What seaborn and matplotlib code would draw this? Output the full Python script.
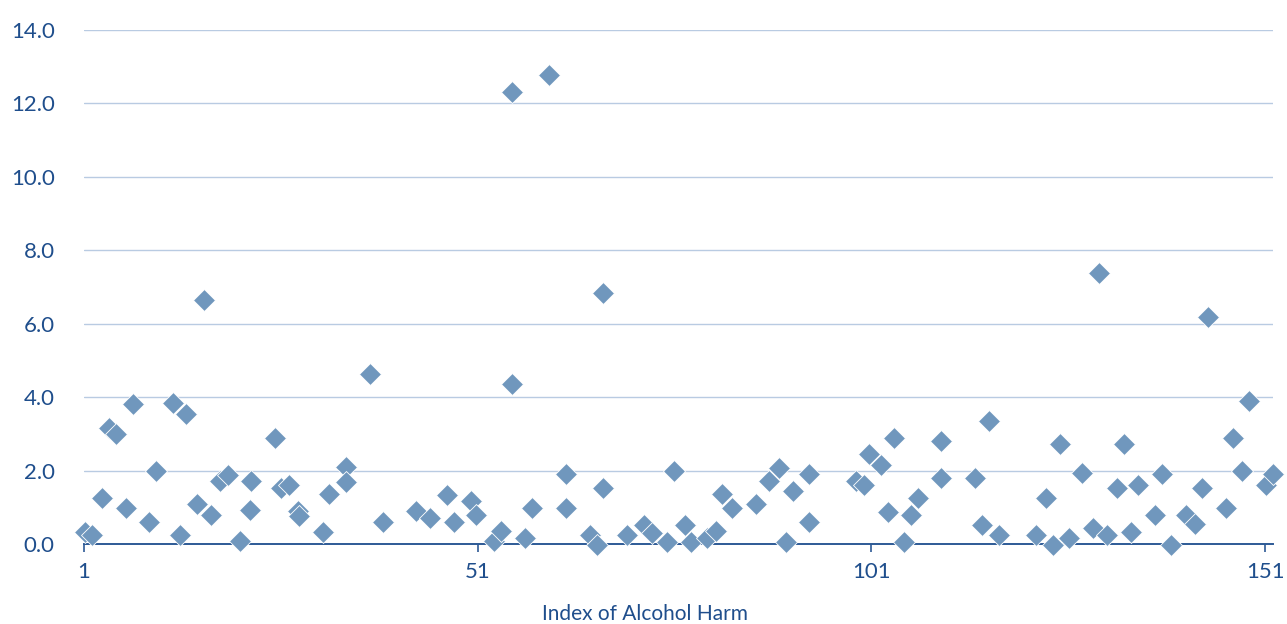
import matplotlib
matplotlib.use("Agg")
import matplotlib.pyplot as plt
import seaborn as sns
import pandas as pd

# values (index position, value)
index = [1.1, 2.0, 3.3, 4.2, 5.0, 6.3, 7.2, 9.3, 10.2, 12.3,
         13.2, 14.0, 15.4, 16.2, 17.1, 18.3, 19.3, 20.8, 22.1, 22.2,
         25.2, 26.0, 27.0, 28.2, 28.3, 31.3, 32.1, 34.3, 34.3, 37.3,
         39.0, 43.2, 45.0, 47.1, 48.0, 50.2, 50.8, 53.1, 54.0, 55.3,
         55.3, 57.0, 57.9, 60.0, 62.2, 62.2, 65.2, 66.1, 66.9, 66.9,
         69.9, 72.1, 73.1, 75.1, 75.9, 77.3, 78.1, 80.1, 81.3, 82.0,
         83.3, 86.3, 88.0, 89.2, 90.2, 91.0, 93.1, 93.1, 99.0, 100.1,
         100.7, 102.2, 103.1, 103.9, 105.2, 106.0, 106.9, 109.9, 109.9, 114.2,
         115.1, 115.9, 117.2, 121.9, 123.2, 124.1, 125.0, 126.1, 127.8, 129.2,
         129.9, 130.9, 132.2, 133.1, 134.0, 134.8, 137.0, 137.9, 139.1, 141.0,
         142.1, 143.0, 143.8, 146.0, 146.9, 148.1, 149.0, 151.1, 152.0]
value = [0.33, 0.25, 1.25, 3.17, 3.00, 0.97, 3.82, 0.61, 1.99, 3.83,
         0.25, 3.54, 1.08, 6.65, 0.79, 1.72, 1.88, 0.09, 0.93, 1.71,
         2.90, 1.53, 1.62, 0.91, 0.76, 0.33, 1.35, 2.10, 1.69, 4.64,
         0.61, 0.89, 0.70, 1.34, 0.61, 1.18, 0.79, 0.08, 0.35, 4.36,
         12.31, 0.15, 0.97, 12.78, 1.90, 0.97, 0.25, -0.03, 6.83, 1.53,
         0.25, 0.52, 0.30, 0.06, 1.99, 0.53, 0.06, 0.15, 0.35, 1.35,
         0.97, 1.08, 1.72, 2.08, 0.06, 1.44, 1.90, 0.61, 1.72, 1.62,
         2.45, 2.15, 0.88, 2.90, 0.06, 0.79, 1.25, 2.81, 1.81, 1.81,
         0.52, 3.36, 0.25, 0.25, 1.24, -0.03, 2.72, 0.16, 1.93, 0.43,
         7.37, 0.25, 1.53, 2.72, 0.34, 1.62, 0.79, 1.90, -0.03, 0.80,
         0.54, 1.53, 6.19, 0.97, 2.90, 1.99, 3.90, 1.62, 1.91]
x_ticks = [1, 51, 101, 151]
y_ticks = [0, 2, 4, 6, 8, 10, 12, 14]

df = pd.DataFrame({"index": index, "value": value})

sns.set_style("white")
plt.rcParams["font.family"] = ["Lato", "DejaVu Sans"]

text_col = "#1f4e8c"
fig = plt.figure(figsize=(12.87, 6.24), dpi=100)
ax = fig.add_axes([0.0653, 0.1282, 0.9238, 0.8237])

sns.scatterplot(data=df, x="index", y="value", marker="D", s=125,
                color="#7097bd", edgecolor="white", linewidth=0.6,
                ax=ax, clip_on=False, zorder=3, legend=False)

ax.set_xlim(1, 152)
ax.set_ylim(0, 14)
ax.set_xticks(x_ticks)
ax.set_xticklabels([str(t) for t in x_ticks])
ax.set_yticks(y_ticks)
ax.set_yticklabels([f"{t:.1f}" for t in y_ticks])

ax.grid(axis="y", color="#b9cbe2", linewidth=1.0)
ax.grid(axis="x", visible=False)
ax.set_axisbelow(True)
for side in ["top", "right", "left"]:
    ax.spines[side].set_visible(False)
ax.spines["bottom"].set_color("#2d5a96")
ax.spines["bottom"].set_linewidth(1.4)

ax.tick_params(axis="x", colors="#2d5a96", labelcolor=text_col, labelsize=16,
               length=6, width=1.2, direction="out", pad=7, bottom=True)
ax.tick_params(axis="y", labelcolor=text_col, labelsize=16, length=0, pad=21)

ax.set_ylabel("")
ax.set_xlabel("Index of Alcohol Harm", fontsize=15, color=text_col)
ax.xaxis.set_label_coords(0.472, -0.117)

plt.savefig("out.png", dpi=100)
